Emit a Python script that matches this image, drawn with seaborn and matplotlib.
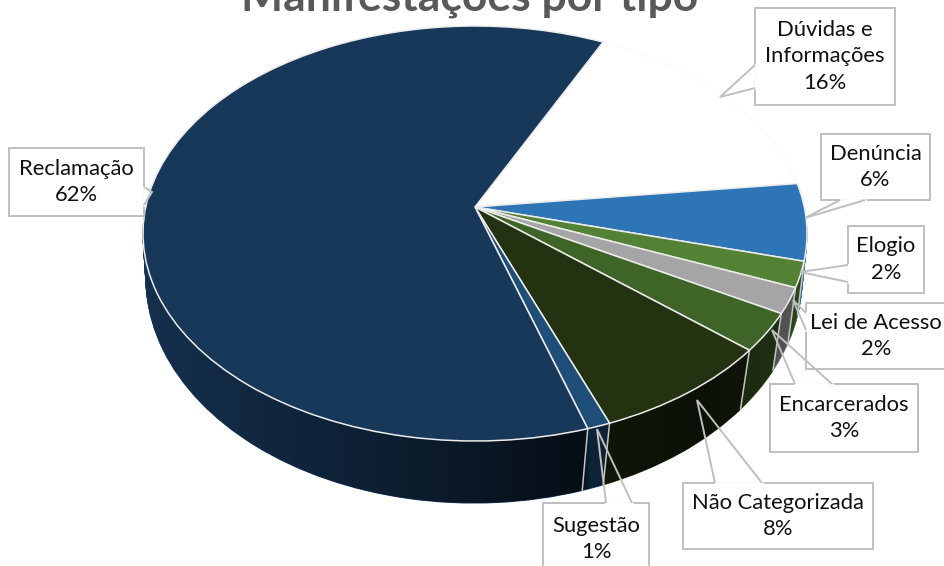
import numpy as np
import seaborn as sns
import matplotlib
matplotlib.use("Agg")
import matplotlib.pyplot as plt
from matplotlib.path import Path
from matplotlib.patches import Polygon, PathPatch, Rectangle
from matplotlib.transforms import Transform

# dados
categorias = ["Dúvidas e\nInformações", "Denúncia", "Elogio", "Lei de Acesso",
              "Encarcerados", "Não Categorizada", "Sugestão", "Reclamação"]
valores = [16, 6, 2, 2, 3, 8, 1, 62]
cores = ["#ffffff", "#2e75b6", "#548235", "#a5a5a5",
         "#3f6428", "#233312", "#1f4e79", "#18385a"]

# caixas dos rotulos: x0, x1, y0, y1 e o triangulo do ponteiro (base1, ponta, base2)
caixas = [
    (755, 895, 8, 105, [(755, 65), (720, 97), (755, 88)]),
    (821, 930, 134, 200, [(840, 200), (805, 218), (865, 200)]),
    (848, 924, 226, 293, [(848, 265), (800, 272), (848, 282)]),
    (806, 946, 303, 369, [(806, 313), (793, 300), (806, 330)]),
    (770, 918, 384, 452, [(795, 384), (772, 330), (832, 384)]),
    (683, 873, 483, 549, [(715, 483), (697, 400), (762, 483)]),
    (543, 649, 503, 575, [(606, 503), (597, 429), (632, 503)]),
    (9, 144, 148, 216, [(144, 187), (152, 192), (144, 205)]),
]

INICIO = 64.3


class Perspectiva(Transform):
    # leva o circulo unitario do pie para a elipse em perspectiva (pixels)
    input_dims = 2
    output_dims = 2

    def __init__(self, cx, topo, base, apice, a):
        super().__init__()
        cima = apice - topo
        baixo = base - apice
        self.g = (baixo - cima) / (baixo + cima)
        self.alfa = cima * (1 + self.g)
        self.k = a * np.sqrt(1 - self.g ** 2)
        self.cx = cx
        self.apice = apice

    def transform_non_affine(self, xy):
        xy = np.asarray(xy, dtype=float)
        w = 1 + self.g * xy[:, 1]
        return np.column_stack([self.cx + self.k * xy[:, 0] / w,
                                self.apice - self.alfa * xy[:, 1] / w])


sns.set_theme(style="white")
plt.rcParams["font.family"] = ["Lato", "DejaVu Sans"]

fig = plt.figure(figsize=(9.44, 5.66), dpi=100)
ax = fig.add_axes([0, 0, 1, 1])

paleta = sns.color_palette(cores)
topo = Perspectiva(475, 26, 441, 207, 332)
fundo = Perspectiva(474, 53, 503, 256, 328)

# parede lateral: varias fatias empilhadas, de baixo para cima
n = 50
for i in range(n, 0, -1):
    t = i / n
    p = Perspectiva(475 - t, 26 + 27 * t, 441 + 62 * t, 207 + 49 * t, 332 - 4 * t)
    wedges, _ = ax.pie(valores, colors=paleta, startangle=INICIO, counterclock=False,
                       wedgeprops={"linewidth": 0.8})
    for w, c in zip(wedges, paleta):
        w.set_edgecolor(c)
        w.set_transform(p + ax.transData)
        w.set_zorder(1 + (n - i) * 0.001)

# sombra da parede, mais escura perto da frente
th = np.radians(np.linspace(170, 370, 200))
arco = np.column_stack([np.cos(th), np.sin(th)])
contorno = np.vstack([fundo.transform_non_affine(arco),
                      topo.transform_non_affine(arco[::-1])])
xs = np.arange(944)
alfa = np.interp(xs, [143, 300, 450, 584, 590, 700, 760, 807],
                 [0.15, 0.35, 0.55, 0.76, 0.55, 0.67, 0.55, 0.45])
sombra = np.zeros((1, 944, 4))
sombra[0, :, 3] = alfa
im = ax.imshow(sombra, extent=(0, 944, 566, 0), aspect="auto", zorder=2)
clip = PathPatch(Path(contorno), transform=ax.transData, fc="none", ec="none")
ax.add_patch(clip)
im.set_clip_path(clip)

# emendas claras na parede
limites = INICIO - np.cumsum(valores) * 3.6
for ang in limites:
    s = np.sin(np.radians(ang))
    if s < -0.2:
        q = np.array([[np.cos(np.radians(ang)), s]])
        a = topo.transform_non_affine(q)[0]
        b = fundo.transform_non_affine(q)[0]
        ax.plot([a[0], b[0]], [a[1], b[1]], color="#c4c4c4", lw=1.1, zorder=2.5)

# face de cima
wedges, _ = ax.pie(valores, colors=paleta, startangle=INICIO, counterclock=False,
                   wedgeprops={"edgecolor": "#ececec", "linewidth": 1.1})
for w in wedges:
    w.set_transform(topo + ax.transData)
    w.set_zorder(3)
wedges[0].set_edgecolor("#fbfbfb")

# rotulos
for nome, v, (x0, x1, y0, y1, ponta) in zip(categorias, valores, caixas):
    ax.add_patch(Rectangle((x0, y0), x1 - x0, y1 - y0, fc="white", ec="#bfbfbf",
                           lw=1.4, zorder=4, clip_on=False))
    # ponteiro: apaga o pedaco da borda e desenha os dois lados
    ax.plot([ponta[0][0], ponta[2][0]], [ponta[0][1], ponta[2][1]], color="white",
            lw=2, zorder=4.1)
    ax.add_patch(Polygon(ponta, closed=False, fc="none", ec="#bfbfbf", lw=1.4, zorder=4.2))
    ax.text((x0 + x1) / 2, (y0 + y1) / 2, f"{nome}\n{v}%", ha="center", va="center",
            fontsize=15.8, color="#111111", linespacing=1.42, zorder=5)

ax.text(470, 11, "Manifestações por tipo", ha="center", va="baseline", fontsize=32,
        fontweight="bold", color="#595959", zorder=6)

ax.set_xlim(0, 944)
ax.set_ylim(566, 0)
ax.set_aspect("auto")
ax.axis("off")

fig.savefig("out.png", dpi=100)
